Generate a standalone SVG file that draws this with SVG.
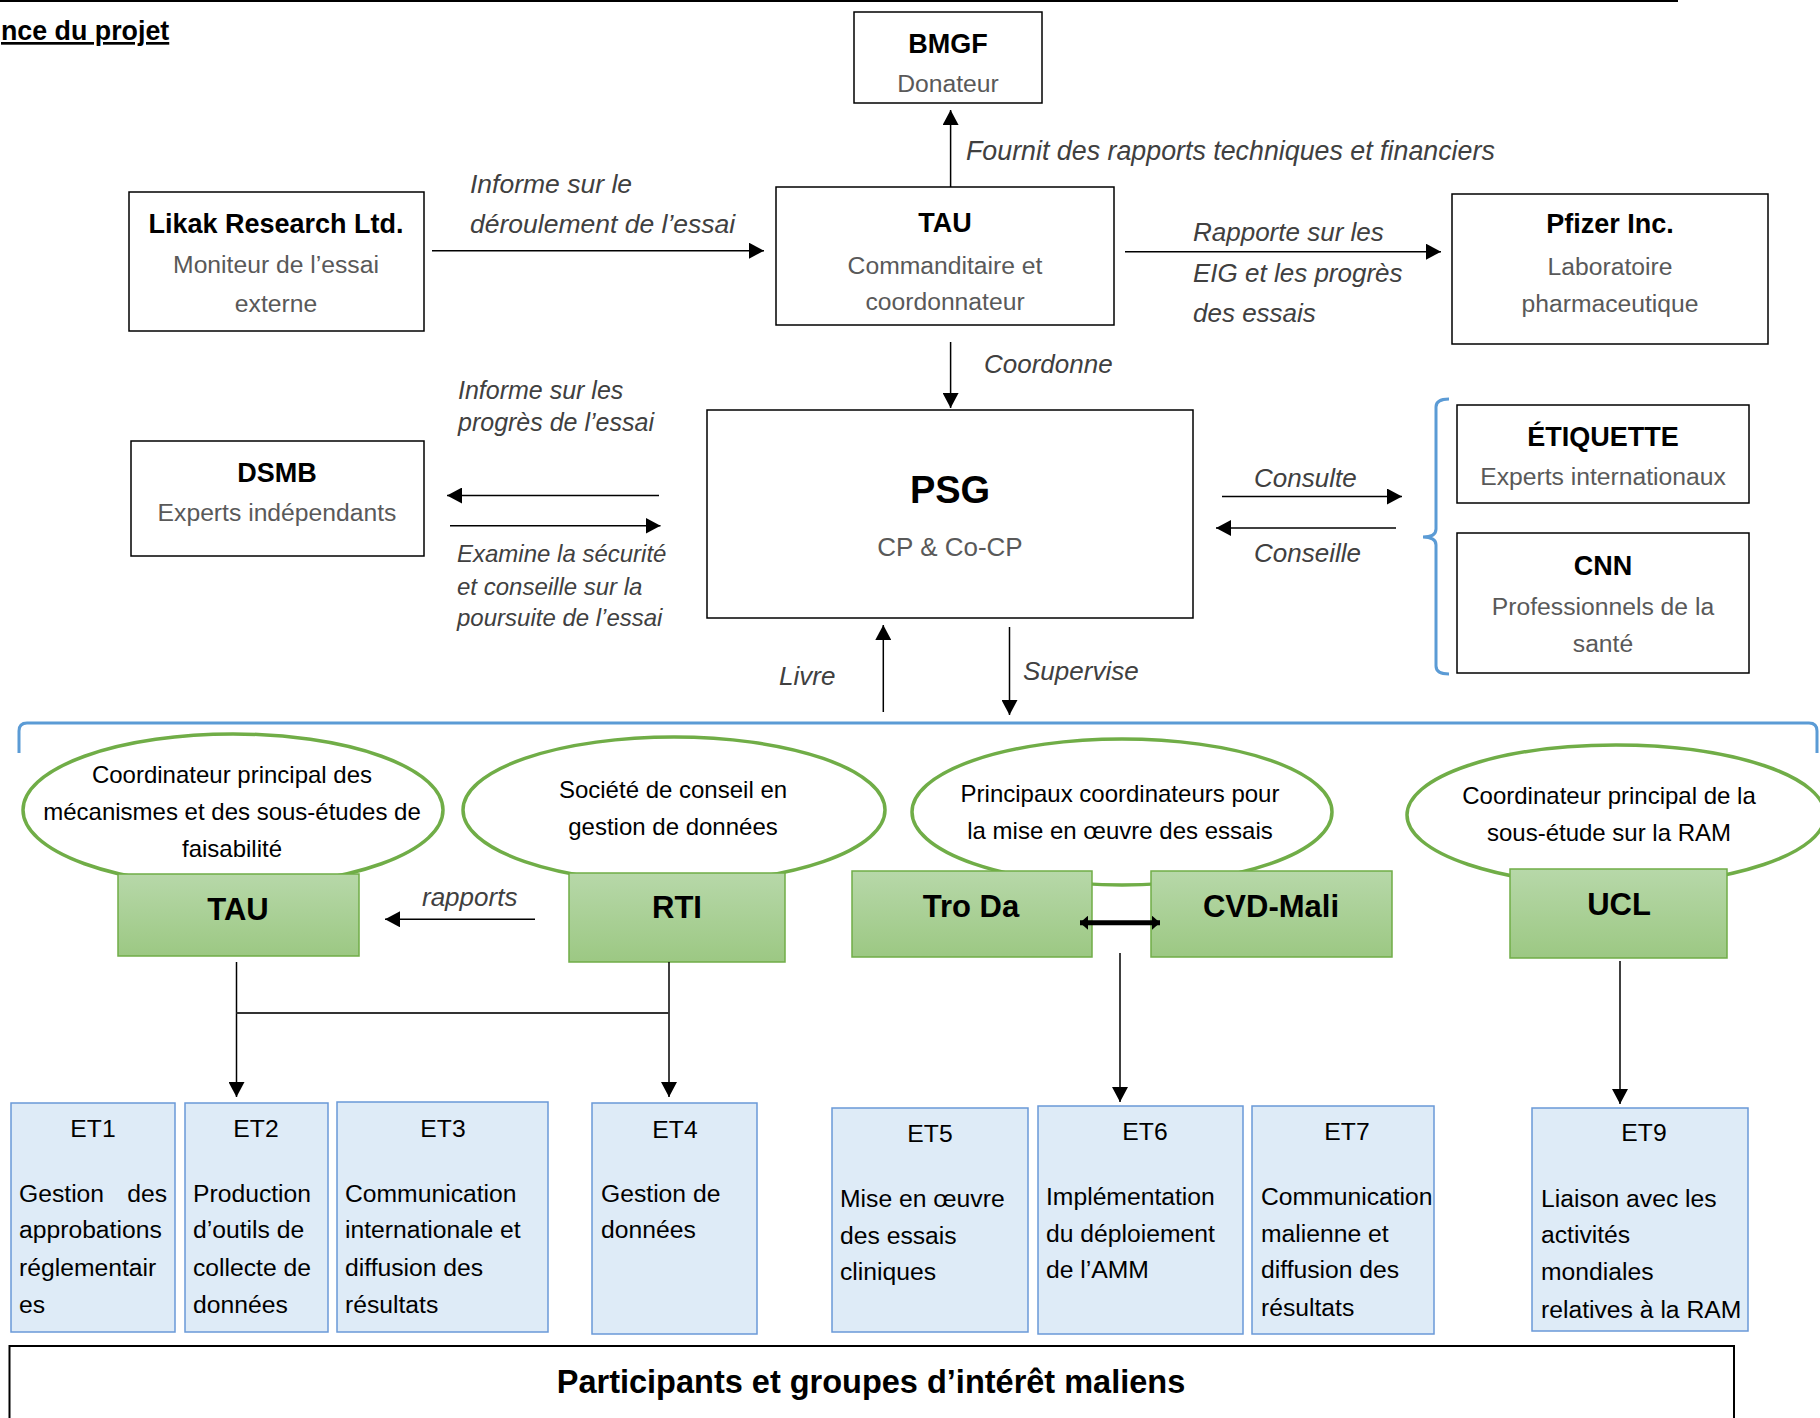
<svg xmlns="http://www.w3.org/2000/svg" width="1820" height="1418" viewBox="0 0 1820 1418">
<style>
text{font-family:"Liberation Sans",Arial,sans-serif}
.box{fill:#fff;stroke:#000;stroke-width:1.5}
.h{font-weight:bold;font-size:27px;fill:#000;text-anchor:middle}
.s{font-size:24.7px;fill:#595959;text-anchor:middle}
.lbl{font-style:italic;font-size:26px;fill:#404040}
.ell{fill:#fff;stroke:#70AD47;stroke-width:3.5}
.et{fill:#DEEBF7;stroke:#6A99D8;stroke-width:1.5}
.ett{font-size:24.7px;fill:#000}
.etc{font-size:24.7px;fill:#000;text-anchor:middle}
.gb{fill:url(#gg);stroke:#70AD47;stroke-width:1.5}
.gt{font-weight:bold;font-size:31px;fill:#000;text-anchor:middle}
.et2{font-size:24px;fill:#000;text-anchor:middle}
.conn line{stroke:#000;stroke-width:1.5;fill:none}
.brace{fill:none;stroke:#5B9BD5;stroke-width:3}
</style>
<defs>
<linearGradient id="gg" x1="0" y1="0" x2="0" y2="1">
<stop offset="0" stop-color="#B7D8A9"/>
<stop offset="1" stop-color="#9CC883"/>
</linearGradient>
<marker id="arr" viewBox="0 0 15 16" refX="15" refY="8" markerWidth="15" markerHeight="16" markerUnits="userSpaceOnUse" orient="auto">
<path d="M0,0 L15,8 L0,16 z" fill="#000"/>
</marker>
<marker id="arrs" viewBox="0 0 8 14" refX="8" refY="7" markerWidth="8" markerHeight="14" markerUnits="userSpaceOnUse" orient="auto-start-reverse">
<path d="M0,0 L8,7 L0,14 z" fill="#000"/>
</marker>
</defs>
<rect width="1820" height="1418" fill="#fff"/>

<line x1="0" y1="1" x2="1678" y2="1" stroke="#000" stroke-width="2"/>
<text x="1" y="40" style="font-weight:bold;font-size:26.8px;text-decoration:underline" fill="#000">nce du projet</text>

<g id="bmgf">
<rect class="box" x="854" y="12" width="188" height="91"/>
<text class="h" x="948" y="53">BMGF</text>
<text class="s" x="948" y="92">Donateur</text>
</g>

<g id="likak">
<rect class="box" x="129" y="192" width="295" height="139"/>
<text class="h" x="276" y="233">Likak Research Ltd.</text>
<text class="s" x="276" y="273">Moniteur de l’essai</text>
<text class="s" x="276" y="312">externe</text>
</g>

<g id="tau">
<rect class="box" x="776" y="187" width="338" height="138"/>
<text class="h" x="945" y="232">TAU</text>
<text class="s" x="945" y="274">Commanditaire et</text>
<text class="s" x="945" y="310">coordonnateur</text>
</g>

<g id="pfizer">
<rect class="box" x="1452" y="194" width="316" height="150"/>
<text class="h" x="1610" y="233">Pfizer Inc.</text>
<text class="s" x="1610" y="275">Laboratoire</text>
<text class="s" x="1610" y="312">pharmaceutique</text>
</g>

<g id="dsmb">
<rect class="box" x="131" y="441" width="293" height="115"/>
<text class="h" x="277" y="482">DSMB</text>
<text class="s" x="277" y="521">Experts indépendants</text>
</g>

<g id="psg">
<rect class="box" x="707" y="410" width="486" height="208"/>
<text class="h" x="950" y="503" style="font-size:38px">PSG</text>
<text class="s" x="950" y="556" style="font-size:26px">CP &amp; Co-CP</text>
</g>

<g id="etiquette">
<rect class="box" x="1457" y="405" width="292" height="98"/>
<text class="h" x="1603" y="446">ÉTIQUETTE</text>
<text class="s" x="1603" y="485">Experts internationaux</text>
</g>

<g id="cnn">
<rect class="box" x="1457" y="533" width="292" height="140"/>
<text class="h" x="1603" y="575">CNN</text>
<text class="s" x="1603" y="615">Professionnels de la</text>
<text class="s" x="1603" y="652">santé</text>
</g>

<path class="brace" d="M1449,399 Q1436,399 1436,407 L1436,529 Q1436,537 1423,537 Q1436,537 1436,545 L1436,666 Q1436,674 1449,674"/>
<path class="brace" d="M19,753 L19,731 Q19,723 27,723 L1809,723 Q1817,723 1817,731 L1817,753"/>

<g id="ell-tau">
<ellipse class="ell" cx="233" cy="810" rx="210" ry="76"/>
<text class="et2" x="232" y="783">Coordinateur principal des</text>
<text class="et2" x="232" y="820">mécanismes et des sous-études de</text>
<text class="et2" x="232" y="857">faisabilité</text>
</g>
<g id="ell-rti">
<ellipse class="ell" cx="674" cy="810" rx="211" ry="73"/>
<text class="et2" x="673" y="798">Société de conseil en</text>
<text class="et2" x="673" y="835">gestion de données</text>
</g>
<g id="ell-trod">
<ellipse class="ell" cx="1122" cy="812" rx="210" ry="73"/>
<text class="et2" x="1120" y="802">Principaux coordinateurs pour</text>
<text class="et2" x="1120" y="839">la mise en œuvre des essais</text>
</g>
<g id="ell-ucl">
<ellipse class="ell" cx="1616" cy="815" rx="209" ry="70"/>
<text class="et2" x="1609" y="804">Coordinateur principal de la</text>
<text class="et2" x="1609" y="841">sous-étude sur la RAM</text>
</g>

<g id="g-tau">
<rect class="gb" x="118" y="874" width="241" height="82"/>
<text class="gt" x="238" y="920">TAU</text>
</g>
<g id="g-rti">
<rect class="gb" x="569" y="873" width="216" height="89"/>
<text class="gt" x="677" y="918">RTI</text>
</g>
<g id="g-trod">
<rect class="gb" x="852" y="871" width="240" height="86"/>
<text class="gt" x="971" y="917">Tro Da</text>
</g>
<g id="g-cvd">
<rect class="gb" x="1151" y="871" width="241" height="86"/>
<text class="gt" x="1271" y="917">CVD-Mali</text>
</g>
<g id="g-ucl">
<rect class="gb" x="1510" y="869" width="217" height="89"/>
<text class="gt" x="1619" y="915">UCL</text>
</g>

<g id="et1">
<rect class="et" x="11" y="1103" width="164" height="229"/>
<text class="etc" x="93" y="1137">ET1</text>
<text class="ett" x="19" y="1202">Gestion</text>
<text class="ett" x="167" y="1202" text-anchor="end">des</text>
<text class="ett" x="19" y="1238">approbations</text>
<text class="ett" x="19" y="1276">réglementair</text>
<text class="ett" x="19" y="1313">es</text>
</g>
<g id="et2">
<rect class="et" x="185" y="1103" width="143" height="229"/>
<text class="etc" x="256" y="1137">ET2</text>
<text class="ett" x="193" y="1202">Production</text>
<text class="ett" x="193" y="1238">d’outils de</text>
<text class="ett" x="193" y="1276">collecte de</text>
<text class="ett" x="193" y="1313">données</text>
</g>
<g id="et3">
<rect class="et" x="337" y="1102" width="211" height="230"/>
<text class="etc" x="443" y="1137">ET3</text>
<text class="ett" x="345" y="1202">Communication</text>
<text class="ett" x="345" y="1238">internationale et</text>
<text class="ett" x="345" y="1276">diffusion des</text>
<text class="ett" x="345" y="1313">résultats</text>
</g>
<g id="et4">
<rect class="et" x="592" y="1103" width="165" height="231"/>
<text class="etc" x="675" y="1138">ET4</text>
<text class="ett" x="601" y="1202">Gestion de</text>
<text class="ett" x="601" y="1238">données</text>
</g>
<g id="et5">
<rect class="et" x="832" y="1108" width="196" height="224"/>
<text class="etc" x="930" y="1142">ET5</text>
<text class="ett" x="840" y="1207">Mise en œuvre</text>
<text class="ett" x="840" y="1244">des essais</text>
<text class="ett" x="840" y="1280">cliniques</text>
</g>
<g id="et6">
<rect class="et" x="1038" y="1106" width="205" height="228"/>
<text class="etc" x="1145" y="1140">ET6</text>
<text class="ett" x="1046" y="1205">Implémentation</text>
<text class="ett" x="1046" y="1242">du déploiement</text>
<text class="ett" x="1046" y="1278">de l’AMM</text>
</g>
<g id="et7">
<rect class="et" x="1252" y="1106" width="182" height="228"/>
<text class="etc" x="1347" y="1140">ET7</text>
<text class="ett" x="1261" y="1205">Communication</text>
<text class="ett" x="1261" y="1242">malienne et</text>
<text class="ett" x="1261" y="1278">diffusion des</text>
<text class="ett" x="1261" y="1316">résultats</text>
</g>
<g id="et9">
<rect class="et" x="1532" y="1108" width="216" height="223"/>
<text class="etc" x="1644" y="1141">ET9</text>
<text class="ett" x="1541" y="1207">Liaison avec les</text>
<text class="ett" x="1541" y="1243">activités</text>
<text class="ett" x="1541" y="1280">mondiales</text>
<text class="ett" x="1541" y="1318">relatives à la RAM</text>
</g>

<g id="participants">
<rect x="9.5" y="1346" width="1724.5" height="100" fill="#fff" stroke="#000" stroke-width="2"/>
<text x="871" y="1393" style="font-weight:bold;font-size:32.5px" text-anchor="middle" fill="#000">Participants et groupes d’intérêt maliens</text>
</g>

<g class="conn">
<line x1="950.6" y1="187" x2="950.6" y2="110" marker-end="url(#arr)"/>
<line x1="432" y1="250.7" x2="764" y2="250.7" marker-end="url(#arr)"/>
<line x1="1125" y1="251.7" x2="1441" y2="251.7" marker-end="url(#arr)"/>
<line x1="950.6" y1="342" x2="950.6" y2="408" marker-end="url(#arr)"/>
<line x1="659" y1="495.5" x2="447" y2="495.5" marker-end="url(#arr)"/>
<line x1="450" y1="525.8" x2="660.5" y2="525.8" marker-end="url(#arr)"/>
<line x1="1222" y1="496.5" x2="1402" y2="496.5" marker-end="url(#arr)"/>
<line x1="1396" y1="528" x2="1216" y2="528" marker-end="url(#arr)"/>
<line x1="883.3" y1="712" x2="883.3" y2="625" marker-end="url(#arr)"/>
<line x1="1009.5" y1="627" x2="1009.5" y2="715" marker-end="url(#arr)"/>
<line x1="535" y1="919.3" x2="385" y2="919.3" marker-end="url(#arr)"/>
<line x1="236.5" y1="962" x2="236.5" y2="1097" marker-end="url(#arr)"/>
<line x1="669" y1="962" x2="669" y2="1097" marker-end="url(#arr)"/>
<line x1="236.5" y1="1013" x2="669" y2="1013" style="stroke-width:2;stroke:#333"/>
<line x1="1120" y1="953" x2="1120" y2="1102" marker-end="url(#arr)"/>
<line x1="1620" y1="961" x2="1620" y2="1104" marker-end="url(#arr)"/>
<line x1="1080" y1="922.7" x2="1160" y2="922.7" style="stroke-width:5" marker-start="url(#arrs)" marker-end="url(#arrs)"/>
</g>

<g id="labels">
<text class="lbl" x="966" y="160" style="font-size:26.8px">Fournit des rapports techniques et financiers</text>
<text class="lbl" x="470" y="193" style="font-size:26.5px">Informe sur le</text>
<text class="lbl" x="470" y="233" style="font-size:26.5px">déroulement de l’essai</text>
<text class="lbl" x="1193" y="241">Rapporte sur les</text>
<text class="lbl" x="1193" y="282">EIG et les progrès</text>
<text class="lbl" x="1193" y="322">des essais</text>
<text class="lbl" x="984" y="373">Coordonne</text>
<text class="lbl" x="458" y="399" style="font-size:25px">Informe sur les</text>
<text class="lbl" x="458" y="431" style="font-size:25px">progrès de l’essai</text>
<text class="lbl" x="457" y="562" style="font-size:24px">Examine la sécurité</text>
<text class="lbl" x="457" y="595" style="font-size:24px">et conseille sur la</text>
<text class="lbl" x="457" y="626" style="font-size:24px">poursuite de l’essai</text>
<text class="lbl" x="1254" y="487">Consulte</text>
<text class="lbl" x="1254" y="562">Conseille</text>
<text class="lbl" x="779" y="685">Livre</text>
<text class="lbl" x="1023" y="680">Supervise</text>
<text class="lbl" x="422" y="906">rapports</text>
</g>
</svg>
